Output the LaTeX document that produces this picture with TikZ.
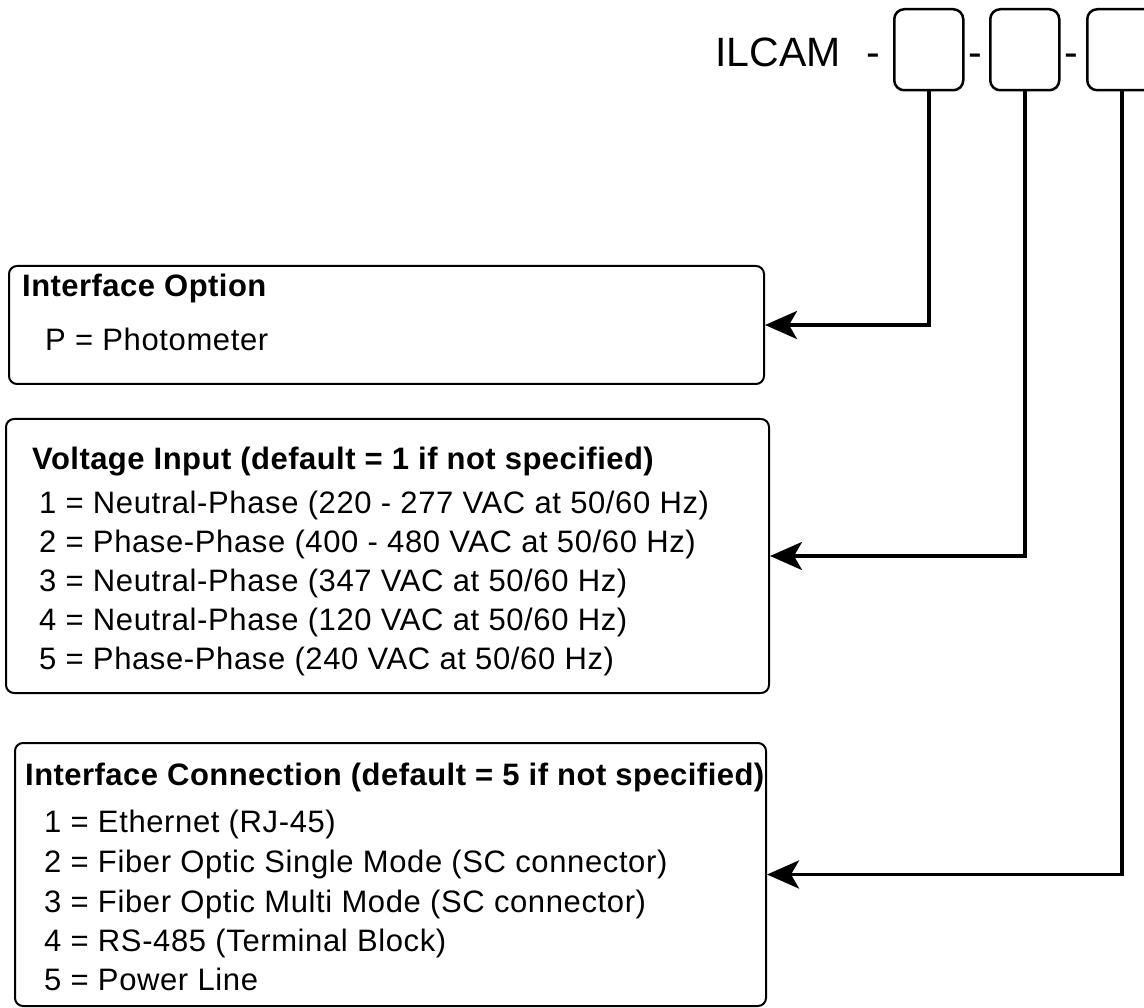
\documentclass[tikz,border=0pt]{standalone}
\usepackage{fontspec}
\setmainfont{Liberation Sans}
\usetikzlibrary{arrows.meta}
\begin{document}
\begin{tikzpicture}[x=1pt,y=-1pt,
  box/.style={draw, line width=2pt, rounded corners=8pt, inner sep=0pt, anchor=north west},
  slot/.style={draw, line width=2.5pt, rounded corners=10pt, inner sep=0pt, minimum width=69pt, minimum height=81pt, anchor=north west},
  conn/.style={line width=3.8pt, -{Stealth[length=32pt,width=28pt,inset=8pt]}},
  txt/.style={anchor=base west, inner sep=0pt, font=\fontsize{31}{37}\selectfont\addfontfeature{LetterSpace=2.0}},
  ttl/.style={anchor=base west, inner sep=0pt, font=\fontsize{31}{37}\selectfont\bfseries\addfontfeature{LetterSpace=1.5}},
  big/.style={anchor=base west, inner sep=0pt, font=\fontsize{41}{49}\selectfont},
  bigc/.style={anchor=base, inner sep=0pt, font=\fontsize{41}{49}\selectfont}]
\fill[white] (0,0) rectangle (1144,1008);
\useasboundingbox (0,0) rectangle (1144,1008);

% part number
\node[big] (ilcam) at (715,67) {ILCAM};
\node[bigc] (d1) at (873.5,67) {-};
\node[bigc] (d2) at (975,67) {-};
\node[bigc] (d3) at (1071.5,67) {-};
\node[slot] (t1) at (893,8) {};
\node[slot] (t2) at (989,8) {};
\node[slot] (t3) at (1086,8) {};

% boxes
\node[box, minimum width=755pt, minimum height=118pt] (opt) at (8,265) {};
\node[box, minimum width=763pt, minimum height=274pt] (volt) at (5,418) {};
\node[box, minimum width=751pt, minimum height=263pt] (conn) at (14,742) {};

% texts box 1
\node[ttl] (optT) at (22,297) {Interface Option};
\node[txt] (optA) at (45,351) {P = Photometer};

% texts box 2
\node[ttl] (voltT) at (32,469) {Voltage Input (default = 1 if not specified)};
\node[txt] (v1) at (39,513) {1 = Neutral-Phase (220 - 277 VAC at 50/60 Hz)};
\node[txt] (v2) at (39,552) {2 = Phase-Phase (400 - 480 VAC at 50/60 Hz)};
\node[txt] (v3) at (39,591) {3 = Neutral-Phase (347 VAC at 50/60 Hz)};
\node[txt] (v4) at (39,630) {4 = Neutral-Phase (120 VAC at 50/60 Hz)};
\node[txt] (v5) at (39,669) {5 = Phase-Phase (240 VAC at 50/60 Hz)};

% texts box 3
\node[ttl] (connT) at (25,785) {Interface Connection (default = 5 if not specified)};
\node[txt] (c1) at (44,832) {1 = Ethernet (RJ-45)};
\node[txt] (c2) at (44,872) {2 = Fiber Optic Single Mode (SC connector)};
\node[txt] (c3) at (44,912) {3 = Fiber Optic Multi Mode (SC connector)};
\node[txt] (c4) at (44,951) {4 = RS-485 (Terminal Block)};
\node[txt] (c5) at (44,990) {5 = Power Line};

% connectors
\draw[conn] (t1.south) |- (opt.east);
\draw[conn] (t2.south) |- (volt.east);
\draw[conn] (t3.south) |- (conn.east);
\end{tikzpicture}
\end{document}
